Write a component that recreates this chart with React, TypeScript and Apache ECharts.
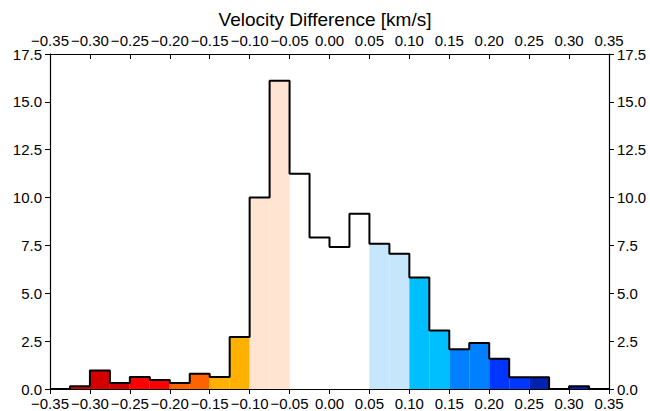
import React, { useEffect, useRef } from "react";
import * as echarts from "echarts";

// Histogram bins (left edges, width 0.025 km/s)
const binLefts = [
  -0.35, -0.325, -0.3, -0.275, -0.25, -0.225, -0.2, -0.175, -0.15, -0.125,
  -0.1, -0.075, -0.05, -0.025, 0.0, 0.025, 0.05, 0.075, 0.1, 0.125,
  0.15, 0.175, 0.2, 0.225, 0.25, 0.275, 0.3, 0.325,
];
const binWidth = 0.025;
const counts = [
  0, 0.14, 0.97, 0.31, 0.63, 0.47, 0.31, 0.8, 0.63, 2.72,
  10.0, 16.1, 11.25, 7.92, 7.42, 9.16, 7.59, 7.07, 5.82, 3.05,
  2.07, 2.4, 1.58, 0.61, 0.61, 0, 0.14, 0,
];
const binColors = [
  "none", "#d40000", "#d40000", "#d40000", "#ff0000", "#ff0000", "#ff6200", "#ff6200", "#ffb000", "#ffb000",
  "#ffe4d2", "#ffe4d2", "none", "none", "none", "none", "#c6e6fc", "#c6e6fc", "#00bfff", "#00bfff",
  "#007fff", "#007fff", "#0036ff", "#0036ff", "#0022b0", "none", "#0022c4", "none",
];
const xMin = -0.35;
const xMax = 0.35;
const xInterval = 0.05;
const yMin = 0;
const yMax = 17.5;
const yInterval = 2.5;
const title = "Velocity Difference [km/s]";

const FONT = "'Liberation Sans', Arial, Helvetica, sans-serif";

const fmtX = (v: number) => {
  const s = Math.abs(v).toFixed(2);
  return v < -1e-9 ? "\u2212" + s : s;
};
const fmtY = (v: number) => v.toFixed(1);

export default function App() {
  const ref = useRef<HTMLDivElement>(null);
  useEffect(() => {
    if (!ref.current) return;
    const chart = echarts.init(ref.current, undefined, { renderer: "svg" });

    const fillData = binLefts.map((l, i) => ({
      value: [l, l + binWidth, counts[i]],
      itemStyle: { color: binColors[i] },
    }));
    const stepData: number[][] = binLefts.map((l, i) => [l, counts[i]]);
    stepData.push([xMax, 0]);

    const labelBase = {
      color: "#000",
      fontFamily: FONT,
      fontSize: 15,
      lineHeight: 14,
      showMinLabel: true,
      showMaxLabel: true,
    };
    const axisLine = { show: true, onZero: false, lineStyle: { color: "#000", width: 1.2 } };
    const tickStyle = { color: "#000", width: 1 };

    chart.setOption({
      animation: false,
      backgroundColor: "#fff",
      title: {
        text: title,
        left: 320,
        textAlign: "center",
        top: 5,
        textStyle: { fontFamily: FONT, fontSize: 19, fontWeight: "normal", color: "#000" },
      },
      grid: { left: 50, right: 41, top: 54, bottom: 22, containLabel: false },
      xAxis: [
        {
          type: "value",
          min: xMin,
          max: xMax,
          interval: xInterval,
          position: "bottom",
          splitLine: { show: false },
          axisLine,
          axisTick: { show: true, inside: false, length: 5, lineStyle: tickStyle },
          axisLabel: { ...labelBase, formatter: fmtX, margin: 7 },
        },
        {
          type: "value",
          min: xMin,
          max: xMax,
          interval: xInterval,
          position: "top",
          splitLine: { show: false },
          axisLine,
          axisTick: { show: true, inside: true, length: 5, lineStyle: tickStyle },
          axisLabel: { ...labelBase, formatter: fmtX, margin: 7 },
        },
      ],
      yAxis: [
        {
          type: "value",
          min: yMin,
          max: yMax,
          interval: yInterval,
          position: "left",
          splitLine: { show: false },
          axisLine,
          axisTick: { show: true, inside: false, length: 5, lineStyle: tickStyle },
          axisLabel: { ...labelBase, formatter: fmtY, margin: 8 },
        },
        {
          type: "value",
          min: yMin,
          max: yMax,
          interval: yInterval,
          position: "right",
          splitLine: { show: false },
          axisLine,
          axisTick: { show: true, inside: false, length: 5, lineStyle: tickStyle },
          axisLabel: { ...labelBase, formatter: fmtY, margin: 8 },
        },
      ],
      series: [
        {
          type: "custom",
          xAxisIndex: 0,
          yAxisIndex: 0,
          encode: { x: [0, 1], y: 2 },
          z: 1,
          renderItem: (params: any, api: any) => {
            const p0 = api.coord([api.value(0), api.value(2)]);
            const p1 = api.coord([api.value(1), 0]);
            return {
              type: "rect",
              shape: { x: p0[0], y: p0[1], width: p1[0] - p0[0], height: p1[1] - p0[1] },
              style: { fill: api.visual("color"), stroke: "none" },
            };
          },
          data: fillData,
        },
        {
          type: "line",
          xAxisIndex: 0,
          yAxisIndex: 0,
          step: "end",
          symbol: "none",
          z: 3,
          lineStyle: { color: "#000", width: 2 },
          data: stepData,
        },
      ],
    });
    return () => chart.dispose();
  }, []);
  return <div ref={ref} style={{ width: 650, height: 411, position: "absolute", left: 0, top: 0 }} />;
}
